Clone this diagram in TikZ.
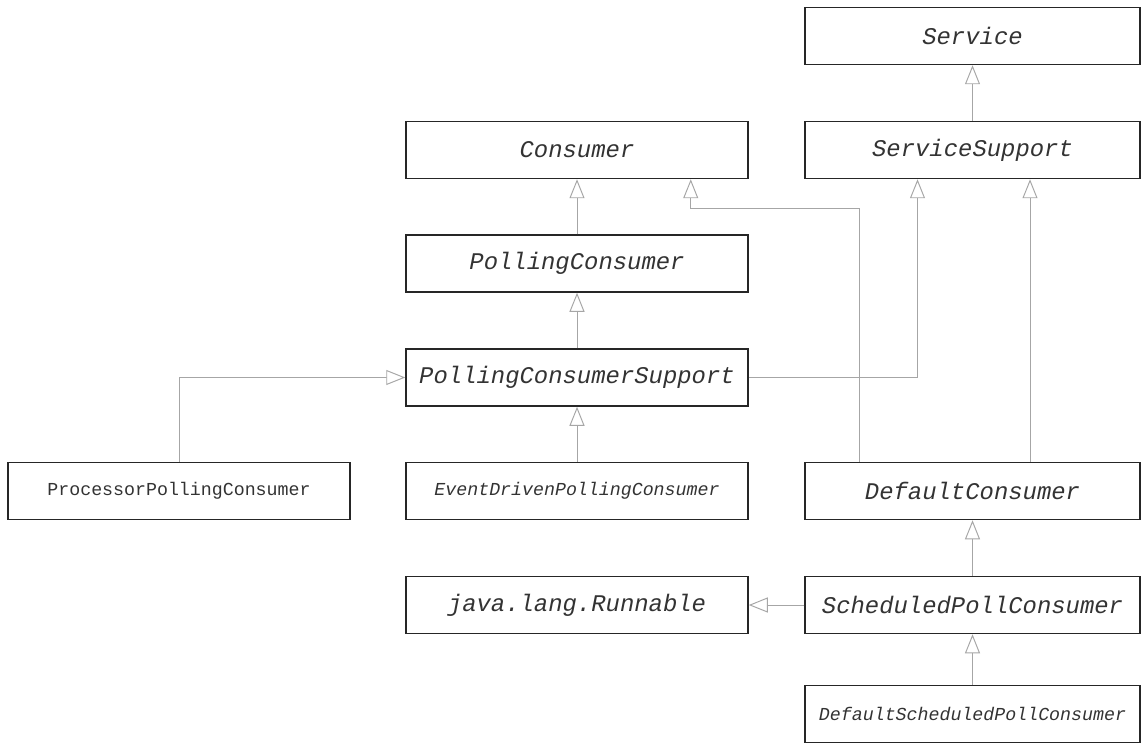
\documentclass[tikz,border=0pt]{standalone}
\usepackage{fontspec}
\setmonofont{Liberation Mono}
\usetikzlibrary{arrows.meta}

\tikzset{
  cls/.style={draw=black!85, line width=0.85pt, minimum width=6.84cm, minimum height=1.14cm,
    inner sep=0pt, text=black!80, font=\ttfamily\itshape\fontsize{13.6}{16}\selectfont},
  small/.style={font=\ttfamily\itshape\fontsize{10.4}{12}\selectfont},
  inh/.style={draw=black!35, line width=0.55pt,
    -{Triangle[open, length=0.38cm, width=0.3cm, fill=white]}},
}

\begin{document}
\begin{tikzpicture}

\useasboundingbox (0,0) rectangle (22.9,14.88);

% classes
\node[cls, minimum width=6.7cm] (srv) at (19.45,14.16) {Service};
\node[cls, minimum width=6.7cm] (ss) at (19.45,11.88) {ServiceSupport};
\node[cls] (cons) at (11.54,11.88) {Consumer};
\node[cls] (pc) at (11.54,9.61) {PollingConsumer};
\node[cls] (pcs) at (11.54,7.33) {PollingConsumerSupport};
\node[cls, small, font=\ttfamily\upshape\fontsize{10.4}{12}\selectfont] (ppc) at (3.58,5.06) {ProcessorPollingConsumer};
\node[cls, small] (edpc) at (11.54,5.06) {EventDrivenPollingConsumer};
\node[cls, minimum width=6.7cm] (dc) at (19.45,5.06) {DefaultConsumer};
\node[cls] (run) at (11.54,2.78) {java.lang.Runnable};
\node[cls, minimum width=6.7cm] (spc) at (19.45,2.78) {ScheduledPollConsumer};
\node[cls, small, minimum width=6.7cm] (dspc) at (19.45,0.6) {DefaultScheduledPollConsumer};

% inheritance
\draw[inh] (ss) -- (srv);
\draw[inh] (pc) -- (cons);
\draw[inh] (pcs) -- (pc);
\draw[inh] (edpc) -- (pcs);
\draw[inh] (ppc.north) |- (pcs.west);
\draw[inh] (pcs.east) -| ([xshift=-1.1cm]ss.south);
\draw[inh] ([xshift=1.1cm]dc.north west) |- ([xshift=-1.16cm,yshift=-0.58cm]cons.south east)
  -- ([xshift=-1.16cm]cons.south east);
\draw[inh] ([xshift=1.15cm]dc.north) -- ([xshift=1.15cm]ss.south);
\draw[inh] (spc) -- (dc);
\draw[inh] (spc.west) -- (run.east);
\draw[inh] (dspc) -- (spc);
\end{tikzpicture}
\end{document}
